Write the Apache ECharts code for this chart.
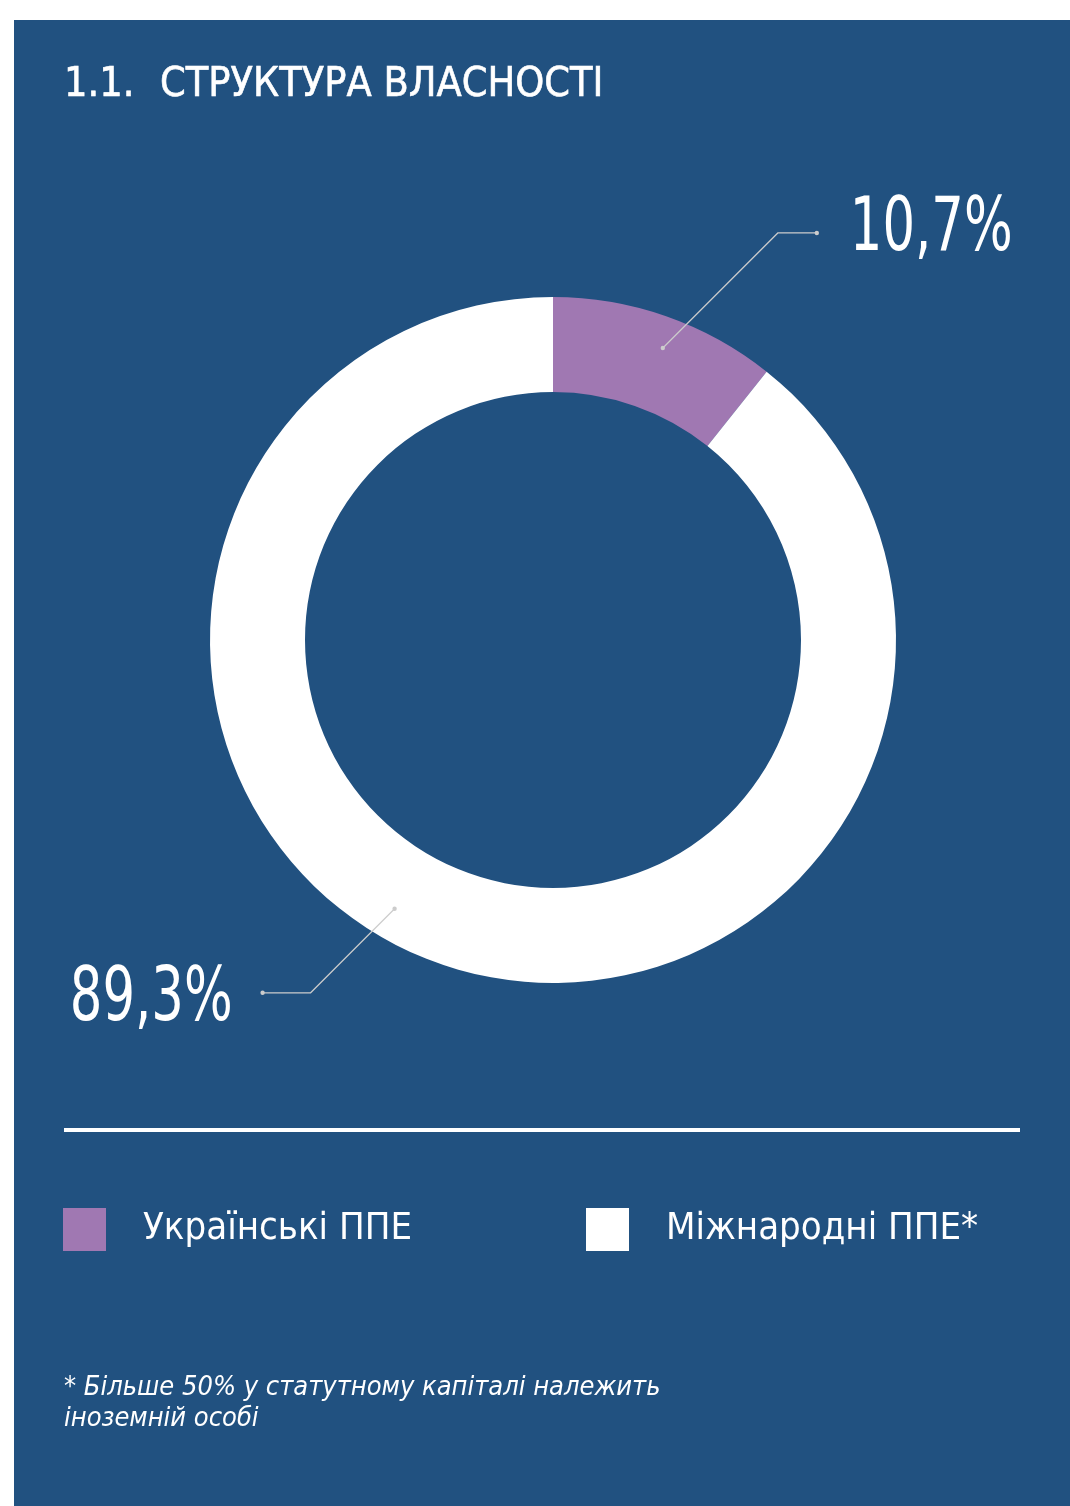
<!DOCTYPE html>
<html>
<head>
<meta charset="utf-8">
<script src="https://cdn.jsdelivr.net/npm/echarts@6/dist/echarts.min.js"></script>
<style>
  html, body { margin: 0; padding: 0; background: #ffffff; }
  #chart { width: 1070px; height: 1506px; }
</style>
</head>
<body>
<div id="chart"></div>
<script>
const categories = ['Українські ППЕ', 'Міжнародні ППЕ*']
const shares = [10.7, 89.3]
const colors = ['#a078b2', '#ffffff']

const panelColor = '#215180'
const lineColor = '#cccccc'
const condensed = '"DejaVu Sans Condensed", "DejaVu Sans", sans-serif'
const center = [553, 640]
const radius = [248, 343]

// leader line shape per slice: diagonal rise, horizontal run, label nudge
const leader = [
  { rise: 115, run: 39, dy: -2 },
  { rise: 84, run: 48, dy: 8 }
]

const total = shares.reduce((a, b) => a + b, 0)

const leaderPoints = (i) => {
  const before = shares.slice(0, i).reduce((a, b) => a + b, 0)
  const span = 360 * shares[i] / total
  const ang = (90 - 360 * before / total - span * 0.535) * Math.PI / 180
  const r = 312
  const p0 = [center[0] + r * Math.cos(ang), center[1] - r * Math.sin(ang)]
  const sx = Math.sign(Math.cos(ang))
  const sy = -Math.sign(Math.sin(ang))
  const p1 = [p0[0] + sx * leader[i].rise, p0[1] + sy * leader[i].rise]
  const p2 = [p1[0] + sx * leader[i].run, p1[1]]
  return [p0, p1, p2]
}

const formatShare = (v) => v.toFixed(1).replace('.', ',') + '%'

// leader lines, end dots and the big value labels
const labelMarks = []
shares.forEach((v, i) => {
  const pts = leaderPoints(i)
  const right = pts[2][0] > pts[0][0]
  labelMarks.push({
    type: 'polyline',
    z: 100,
    shape: { points: pts },
    style: { stroke: lineColor, lineWidth: 1.2, fill: null }
  })
  ;[pts[0], pts[2]].forEach(p => {
    labelMarks.push({
      type: 'circle',
      z: 100,
      shape: { cx: p[0], cy: p[1], r: 2.2 },
      style: { fill: lineColor }
    })
  })
  labelMarks.push({
    type: 'text',
    z: 100,
    x: right ? pts[2][0] + 33 : pts[2][0] - 30,
    y: pts[2][1] + leader[i].dy,
    scaleX: 0.77,
    style: {
      text: formatShare(v),
      fill: '#ffffff',
      font: '74px ' + condensed,
      align: right ? 'left' : 'right',
      verticalAlign: 'middle'
    }
  })
})

const legendBase = {
  icon: 'rect',
  itemWidth: 43,
  itemHeight: 43,
  top: 1208,
  padding: 0,
  selectedMode: false,
  textStyle: {
    color: '#ffffff',
    fontSize: 38,
    fontFamily: condensed,
    padding: [0, 0, 0, 32]
  }
}

const titleText = (text, x) => ({
  type: 'text',
  x: x,
  y: 85,
  style: {
    text: text,
    fill: '#ffffff',
    font: '500 41px ' + condensed,
    align: 'left',
    verticalAlign: 'middle',
    stroke: '#ffffff',
    lineWidth: 0.6
  }
})

const chart = echarts.init(document.getElementById('chart'))
chart.setOption({
  backgroundColor: '#ffffff',
  animation: false,
  color: colors,
  legend: [
    { ...legendBase, left: 63, data: [categories[0]] },
    { ...legendBase, left: 586, data: [categories[1]] }
  ],
  graphic: [
    {
      type: 'rect',
      z: -10,
      shape: { x: 14, y: 20, width: 1056, height: 1486 },
      style: { fill: panelColor }
    },
    titleText('1.1.', 64),
    titleText('СТРУКТУРА ВЛАСНОСТІ', 160),
    {
      type: 'line',
      shape: { x1: 64, y1: 1130, x2: 1020, y2: 1130 },
      style: { stroke: '#ffffff', lineWidth: 4 }
    },
    {
      type: 'text',
      left: 64,
      top: 1372,
      style: {
        text: '* Більше 50% у статутному капіталі належить\nіноземній особі',
        fill: '#ffffff',
        font: 'italic 27px ' + condensed,
        lineHeight: 31
      }
    },
    ...labelMarks
  ],
  series: [
    {
      type: 'pie',
      center: center,
      radius: radius,
      startAngle: 90,
      clockwise: true,
      emphasis: { disabled: true },
      label: { show: false },
      labelLine: { show: false },
      data: categories.map((name, i) => ({ name, value: shares[i] }))
    }
  ]
})
</script>
</body>
</html>
